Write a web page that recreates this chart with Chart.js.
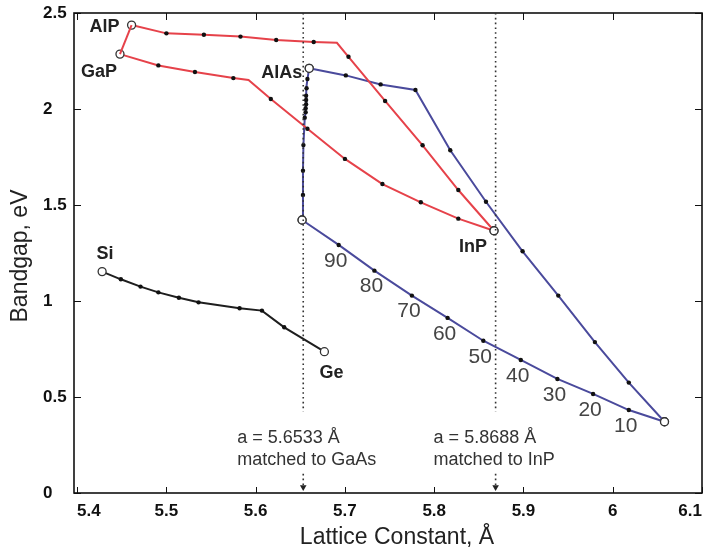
<!DOCTYPE html>
<html>
<head>
<meta charset="utf-8">
<script src="https://cdn.jsdelivr.net/npm/chart.js@4.4.1/dist/chart.umd.min.js"></script>
<style>
    html, body { margin: 0; padding: 0; background: #fff; }
    #wrap { width: 710px; height: 552px; }
</style>
</head>
<body>
<div id="wrap"><canvas id="bandgap"></canvas></div>
<script>
// axis ticks
var xTicks = [5.4, 5.5, 5.6, 5.7, 5.8, 5.9, 6.0, 6.1];
var yTicks = [0, 0.5, 1, 1.5, 2, 2.5];

// AlP -> InP
var alInPX = [5.461, 5.500, 5.542, 5.583, 5.623, 5.665, 5.691, 5.704, 5.745, 5.787, 5.827, 5.867];
var alInPY = [2.437, 2.394, 2.387, 2.377, 2.359, 2.349, 2.345, 2.272, 2.042, 1.811, 1.578, 1.366];
// GaP -> InP
var gaInPX = [5.448, 5.491, 5.532, 5.575, 5.592, 5.617, 5.658, 5.700, 5.742, 5.785, 5.827, 5.867];
var gaInPY = [2.286, 2.227, 2.193, 2.161, 2.151, 2.052, 1.897, 1.740, 1.609, 1.514, 1.429, 1.366];
// AlP - GaP
var alGaPX = [5.461, 5.448];
var alGaPY = [2.437, 2.286];
// GaAs -> AlAs
var alGaAsX = [5.652, 5.653, 5.653, 5.6535, 5.655, 5.656, 5.656, 5.6565, 5.6565, 5.6565, 5.657, 5.658, 5.660];
var alGaAsY = [1.422, 1.552, 1.679, 1.812, 1.955, 1.983, 2.004, 2.025, 2.047, 2.069, 2.108, 2.156, 2.212];
// AlAs -> InAs
var alInAsX = [5.660, 5.701, 5.740, 5.779, 5.818, 5.858, 5.899, 5.939, 5.980, 6.018, 6.058];
var alInAsY = [2.212, 2.175, 2.128, 2.099, 1.785, 1.517, 1.259, 1.028, 0.786, 0.575, 0.371];
// GaAs -> InAs
var gaInAsX = [5.652, 5.693, 5.733, 5.775, 5.815, 5.855, 5.897, 5.938, 5.978, 6.018, 6.058];
var gaInAsY = [1.422, 1.292, 1.158, 1.028, 0.912, 0.793, 0.693, 0.594, 0.516, 0.432, 0.371];
var gaInAsLabels = ["", "90", "80", "70", "60", "50", "40", "30", "20", "10", ""];
// Si -> Ge
var siGeX = [5.428, 5.449, 5.471, 5.491, 5.514, 5.536, 5.582, 5.607, 5.632, 5.677];
var siGeY = [1.153, 1.113, 1.075, 1.045, 1.017, 0.993, 0.962, 0.950, 0.863, 0.736];

// lattice matched lines
var matchX = [5.6533, 5.8688];
var matchText = [["a = 5.6533 Å", "matched to GaAs"], ["a = 5.8688 Å", "matched to InP"]];

var RED = "#e6424a";
var BLUE = "#4a4a9c";
var BLACK = "#1e1e1e";

function pts(xs, ys) {
    return xs.map(function (x, i) { return {x: x, y: ys[i]}; });
}

// end points are open circles, kinks have no marker
function curve(xs, ys, color, kinks) {
    var last = xs.length - 1;
    kinks = kinks || [];
    function isEnd(c) { return c.dataIndex === 0 || c.dataIndex === last; }
    return {
        data: pts(xs, ys),
        showLine: true,
        borderColor: color,
        borderWidth: 2,
        pointRadius: function (c) { return isEnd(c) ? 4 : (kinks.indexOf(c.dataIndex) >= 0 ? 0 : 2.2); },
        pointBackgroundColor: function (c) { return isEnd(c) ? "#fff" : "#111"; },
        pointBorderColor: function (c) { return isEnd(c) ? "#333" : "#111"; },
        pointBorderWidth: function (c) { return isEnd(c) ? 1.3 : 0; }
    };
}

function dotted(x, y0, y1) {
    return {
        data: [{x: x, y: y0}, {x: x, y: y1}],
        showLine: true,
        borderColor: "#333",
        borderWidth: 1.6,
        borderDash: [1.6, 3.2],
        pointRadius: [0, 0]
    };
}

function arrow(x) {
    return {
        data: [{x: x, y: 0.1}, {x: x, y: 0.03}],
        showLine: true,
        borderColor: "#333",
        borderWidth: 1.6,
        borderDash: [1.6, 3.2],
        pointStyle: "triangle",
        rotation: 180,
        pointRadius: [0, 3.8],
        pointBackgroundColor: "#222",
        pointBorderColor: "#222",
        pointBorderWidth: 0
    };
}

var datasets = [
    dotted(matchX[0], 2.5, 0.423), arrow(matchX[0]),
    dotted(matchX[1], 2.5, 0.423), arrow(matchX[1]),
    {data: pts(alGaPX, alGaPY), showLine: true, borderColor: RED, borderWidth: 2, pointRadius: 0},
    curve(alInPX, alInPY, RED, [6]),
    curve(gaInPX, gaInPY, RED, [4]),
    curve(alInAsX, alInAsY, BLUE),
    curve(gaInAsX, gaInAsY, BLUE),
    curve(alGaAsX, alGaAsY, BLUE),
    curve(siGeX, siGeY, BLACK)
];

// frame, inward ticks, titles and text labels
var decor = {
    id: "decor",
    beforeDatasetsDraw: function (chart) {
        var ctx = chart.ctx, a = chart.chartArea, sx = chart.scales.x, sy = chart.scales.y;
        ctx.save();
        ctx.strokeStyle = "#111";
        ctx.lineWidth = 1;
        xTicks.forEach(function (t) {
            var p = Math.round(sx.getPixelForValue(t)) + 0.5;
            ctx.beginPath();
            ctx.moveTo(p, a.bottom); ctx.lineTo(p, a.bottom - 6);
            ctx.moveTo(p, a.top); ctx.lineTo(p, a.top + 7);
            ctx.stroke();
        });
        yTicks.forEach(function (t) {
            var p = Math.round(sy.getPixelForValue(t)) + 0.5;
            ctx.beginPath();
            ctx.moveTo(a.left, p); ctx.lineTo(a.left + 7, p);
            ctx.moveTo(a.right, p); ctx.lineTo(a.right - 7, p);
            ctx.stroke();
        });
        ctx.lineWidth = 1.6;
        ctx.strokeRect(a.left, a.top, a.right - a.left, a.bottom - a.top);
        ctx.restore();
    },
    afterDraw: function (chart) {
        var ctx = chart.ctx, sx = chart.scales.x, sy = chart.scales.y;
        ctx.save();
        ctx.textBaseline = "middle";

        // axis titles
        ctx.fillStyle = "#222";
        ctx.font = "23px 'Liberation Sans', Arial, sans-serif";
        ctx.textAlign = "center";
        ctx.fillText("Lattice Constant, Å", 397, 538);
        ctx.save();
        ctx.translate(21, 256);
        ctx.rotate(-Math.PI / 2);
        ctx.fillText("Bandgap, eV", 0, 0);
        ctx.restore();

        // compound names
        var names = [
            ["AlP", alInPX[0], alInPY[0], -12, 2, "right"],
            ["GaP", gaInPX[0], gaInPY[0], -21, 18, "center"],
            ["AlAs", alInAsX[0], alInAsY[0], -7, 5, "right"],
            ["InP", gaInPX[gaInPX.length - 1], gaInPY[gaInPY.length - 1], -21, 16, "center"],
            ["Si", siGeX[0], siGeY[0], 3, -18, "center"],
            ["Ge", siGeX[siGeX.length - 1], siGeY[siGeY.length - 1], 7, 21, "center"]
        ];
        ctx.font = "bold 18px 'Liberation Sans', Arial, sans-serif";
        ctx.fillStyle = "#222";
        names.forEach(function (n) {
            ctx.textAlign = n[5];
            ctx.fillText(n[0], sx.getPixelForValue(n[1]) + n[3], sy.getPixelForValue(n[2]) + n[4]);
        });

        // composition numbers along GaInAs
        ctx.font = "21px 'Liberation Sans Narrow', 'Liberation Sans', Arial, sans-serif";
        ctx.fillStyle = "#444";
        ctx.textAlign = "center";
        gaInAsLabels.forEach(function (s, i) {
            if (!s) return;
            ctx.fillText(s, sx.getPixelForValue(gaInAsX[i]) - 3, sy.getPixelForValue(gaInAsY[i]) + 16);
        });

        // lattice match notes
        ctx.font = "18px 'Liberation Sans', Arial, sans-serif";
        ctx.fillStyle = "#333";
        ctx.textAlign = "left";
        var dx = [-66, -62];
        matchX.forEach(function (m, i) {
            var px = sx.getPixelForValue(m) + dx[i];
            ctx.fillText(matchText[i][0], px, sy.getPixelForValue(0.284));
            ctx.fillText(matchText[i][1], px, sy.getPixelForValue(0.174));
        });
        ctx.restore();
    }
};

function tickText(v) {
    return String(Math.round(v * 100) / 100);
}

new Chart(document.getElementById("bandgap").getContext("2d"), {
    type: "scatter",
    data: {datasets: datasets},
    options: {
        responsive: true,
        maintainAspectRatio: false,
        animation: false,
        layout: {padding: {left: 43, right: 8, top: 13, bottom: 0}},
        plugins: {legend: {display: false}, tooltip: {enabled: false}},
        elements: {line: {tension: 0}},
        scales: {
            x: {
                type: "linear",
                min: 5.3965,
                max: 6.1,
                afterBuildTicks: function (s) { s.ticks = xTicks.map(function (v) { return {value: v}; }); },
                afterFit: function (s) { s.height = 59; s.paddingLeft = 0; s.paddingRight = 0; },
                grid: {display: false, drawTicks: false},
                border: {display: false},
                ticks: {
                    align: "inner",
                    padding: 8,
                    color: "#111",
                    callback: tickText,
                    font: {family: "'Liberation Sans', Arial, sans-serif", size: 17, weight: "bold"}
                }
            },
            y: {
                min: 0,
                max: 2.5,
                afterBuildTicks: function (s) { s.ticks = yTicks.map(function (v) { return {value: v}; }); },
                afterFit: function (s) { s.width = 31; s.paddingTop = 0; s.paddingBottom = 0; },
                grid: {display: false, drawTicks: false},
                border: {display: false},
                ticks: {
                    crossAlign: "far",
                    color: "#111",
                    callback: tickText,
                    font: {family: "'Liberation Sans', Arial, sans-serif", size: 17, weight: "bold"}
                }
            }
        }
    },
    plugins: [decor]
});
</script>
</body>
</html>
